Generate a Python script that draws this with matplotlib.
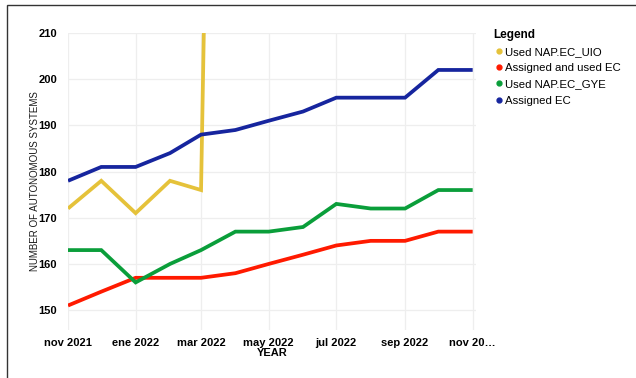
import matplotlib.pyplot as plt
from matplotlib.patches import Rectangle
import pandas as pd

plt.rcParams['font.family'] = ['Liberation Sans', 'DejaVu Sans']

months = pd.date_range('2021-11-01', '2022-11-01', freq='MS')
used_uio = [172, 178, 171, 178, 176, 600, 605, 610, 612, 615, 618, 620, 622]
assigned_used = [151, 154, 157, 157, 157, 158, 160, 162, 164, 165, 165, 167, 167]
used_gye = [163, 163, 156, 160, 163, 167, 167, 168, 173, 172, 172, 176, 176]
assigned = [178, 181, 181, 184, 188, 189, 191, 193, 196, 196, 196, 202, 202]

series = [
    ('Used NAP.EC_UIO', used_uio, '#E5C23A'),
    ('Assigned and used EC', assigned_used, '#FF1A00'),
    ('Used NAP.EC_GYE', used_gye, '#0A9E3A'),
    ('Assigned EC', assigned, '#16259E'),
]
tick_months = ['2021-11-01', '2022-01-01', '2022-03-01', '2022-05-01',
               '2022-07-01', '2022-09-01', '2022-11-01']
tick_labels = ['nov 2021', 'ene 2022', 'mar 2022', 'may 2022',
               'jul 2022', 'sep 2022', 'nov 20…']

fig = plt.figure(figsize=(6.36, 3.78), dpi=100)
ax = fig.add_axes([68 / 636, 1 - 330 / 378, 408 / 636, 297 / 378])

# outer frame (only top and left edges fall inside the image)
fig.patches.append(Rectangle((7 / 636, -0.05), 1.0, 1 - 5 / 378 + 0.05,
                             transform=fig.transFigure, fill=False,
                             edgecolor='#333333', linewidth=1.0))

for name, vals, col in series:
    ax.plot(months, vals, color=col, linewidth=2.7, label=name,
            solid_capstyle='butt', solid_joinstyle='miter')

ax.set_xlim(months[0], months[-1] + pd.Timedelta(days=3))
ax.set_ylim(145.7, 210)
ax.set_yticks([150, 160, 170, 180, 190, 200, 210])
ax.set_xticks(pd.to_datetime(tick_months))
ax.set_xticklabels(tick_labels)
for lab in ax.get_xticklabels() + ax.get_yticklabels():
    lab.set_fontweight('bold')
    lab.set_fontsize(8)
ax.tick_params(length=0, pad=8)
ax.tick_params(axis='x', pad=6)
ax.grid(True, color='#EEEEEE', linewidth=0.9)
for s in ax.spines.values():
    s.set_visible(False)

ax.set_xlabel('YEAR', fontsize=8, fontweight='bold', labelpad=0)
ax.set_ylabel('NUMBER OF AUTONOMOUS SYSTEMS', fontsize=7, labelpad=-1,
              color='#1a1a1a')

handles = [plt.Line2D([], [], marker='o', linestyle='', color=c, markersize=3.5)
           for _, _, c in series]
leg = fig.legend(handles, [s[0] for s in series], title='Legend',
                 loc='upper left', bbox_to_anchor=(489 / 636, 1 - 24 / 378),
                 frameon=False, fontsize=8.2, handletextpad=0.0,
                 handlelength=1.0, labelspacing=0.55, borderaxespad=0)
leg.get_title().set_fontweight('bold')
leg.get_title().set_fontsize(8.5)
leg._legend_box.align = 'left'

fig.savefig('out.png', dpi=100)
